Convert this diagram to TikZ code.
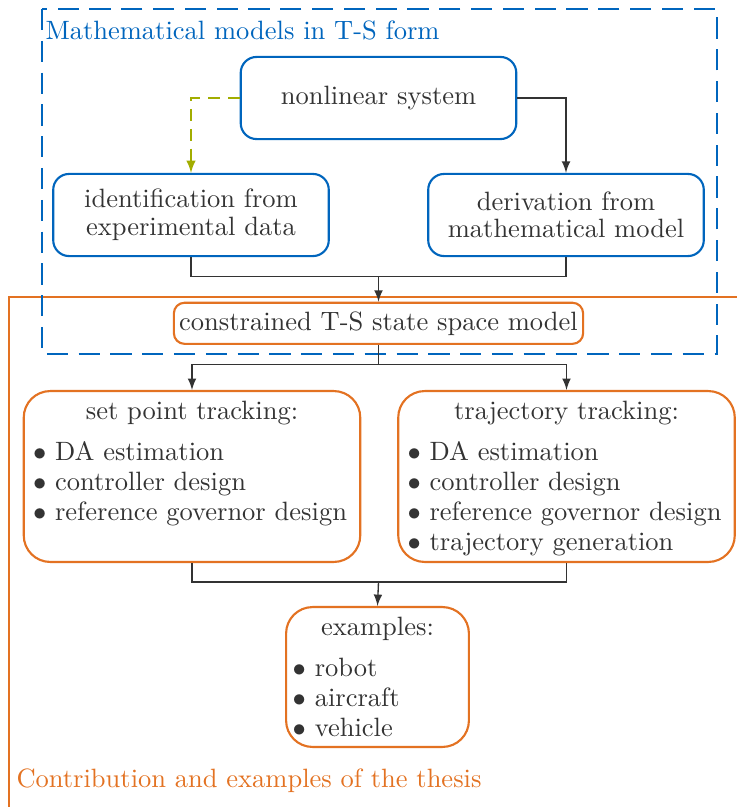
\documentclass[tikz,border=0pt]{standalone}
\usepackage{amsmath}
\usepackage{tikz}
\usetikzlibrary{shapes,positioning,arrows,calc}

\definecolor{tumblue}{HTML}{0065BD}
\definecolor{tumorange}{HTML}{E37222}
\definecolor{tumgreen}{HTML}{A2AD00}
\definecolor{textgray}{HTML}{333333}

\begin{document}
\begin{tikzpicture}[x=0.3774pt, y=-0.3774pt,
        every node/.style={text=textgray},
        model/.style={rectangle, draw=tumblue, line width=0.8pt, rounded corners=6pt,
            minimum width=104pt, minimum height=31pt, align=center},
        task/.style={rectangle, draw=tumorange, line width=0.8pt, rounded corners=10pt,
            inner xsep=3.5pt, inner ysep=3.75pt},
        link/.style={draw=textgray, line width=0.5pt},
        linkarrow/.style={link, -latex}]

    \useasboundingbox (0,0) rectangle (737,807);

    % frames of the two parts
    \draw [tumorange, line width=0.8pt] (9,807) |- (737,297);
    \draw [tumblue, line width=0.8pt, dash pattern=on 8pt off 4pt] (42,9) rectangle (717,354);
    \node [anchor=base west, inner sep=0pt, text=tumblue] (mtitle) at (45,39) {Mathematical models in T-S form};
    \node [anchor=base west, inner sep=0pt, text=tumorange] (ctitle) at (16,787) {Contribution and examples of the thesis};

    % models
    \node [model] (nls) at (378.5,98) {nonlinear system};
    \node [model] (ident) at (191,215) {identification from\\[-1.6pt]experimental data};
    \node [model] (deriv) at (566,215) {derivation from\\[-1.6pt]mathematical model};
    \node [task, rounded corners=4pt, inner sep=2pt, minimum width=154pt, minimum height=15.5pt]
        (tss) at (378.5,323.3) {constrained T-S state space model};

    % tracking tasks
    \node [task] (spt) at (192,476.5) {\begin{minipage}[t][57pt][t]{120pt}\baselineskip=11.3pt
        {\centering set point tracking:\par}\vspace{4.2pt}
        $\bullet$ DA estimation\\
        $\bullet$ controller design\\
        $\bullet$ reference governor design
        \end{minipage}};
    \node [task] (trt) at (566.5,476.5) {\begin{minipage}[t][57pt][t]{120pt}\baselineskip=11.3pt
        {\centering trajectory tracking:\par}\vspace{4.2pt}
        $\bullet$ DA estimation\\
        $\bullet$ controller design\\
        $\bullet$ reference governor design\\
        $\bullet$ trajectory generation
        \end{minipage}};
    \node [task, inner xsep=2.5pt, minimum width=69pt, minimum height=52.8pt] (ex) at (377.5,677)
        {\begin{minipage}[t]{64pt}\baselineskip=11.3pt
        {\centering examples:\par}\vspace{4.2pt}
        $\bullet$ robot\\
        $\bullet$ aircraft\\
        $\bullet$ vehicle
        \end{minipage}};

    % connections
    \draw [linkarrow] (nls.east) -| (deriv.north);
    \draw [linkarrow, draw=tumgreen, line width=0.6pt, dash pattern=on 4.5pt off 3pt] (nls.west) -| (ident.north);

    \coordinate (merge) at (378.5,276.7);
    \draw [link] (ident.south) |- (merge) -| (deriv.south);
    \draw [linkarrow] (merge) -- (tss.north);

    \coordinate (split) at (378.5,364.5);
    \draw [link] (tss.south) -- (split);
    \draw [linkarrow] (split) -| (spt.north);
    \draw [linkarrow] (split) -| (trt.north);

    \coordinate (merge2) at (378.5,582);
    \draw [link] (spt.south) |- (merge2) -| (trt.south);
    \draw [linkarrow] (merge2) -- (ex.north);
\end{tikzpicture}
\end{document}
